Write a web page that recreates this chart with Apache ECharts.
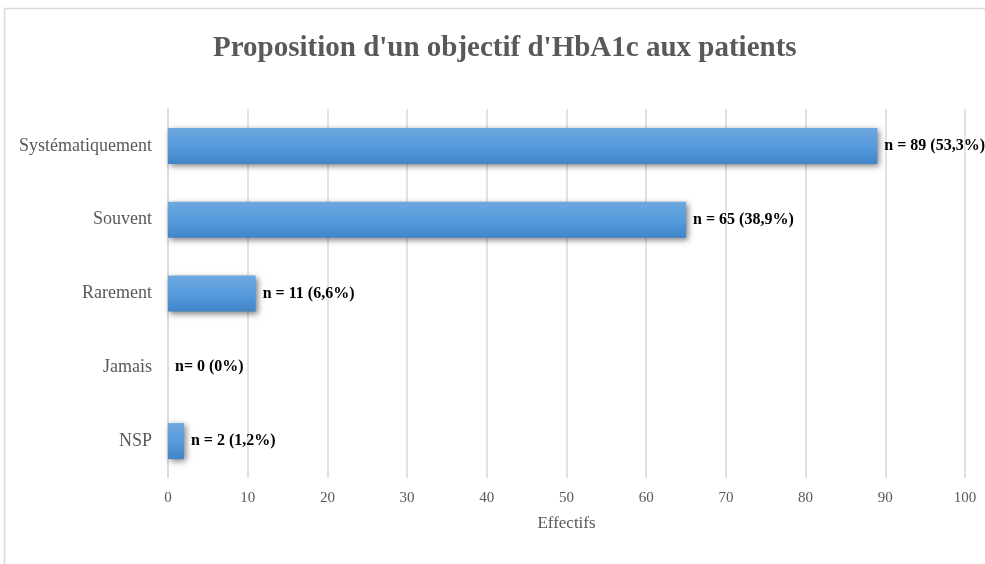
<!DOCTYPE html>
<html>
<head>
<meta charset="utf-8">
<script src="https://cdn.jsdelivr.net/npm/echarts@6/dist/echarts.min.js"></script>
<style>
    html, body { margin: 0; padding: 0; background: #fff; }
    #chart { width: 985px; height: 564px; }
</style>
</head>
<body>
<div id="chart"></div>
<script>
// données
const categories = ['Systématiquement', 'Souvent', 'Rarement', 'Jamais', 'NSP'];
const effectifs = [89, 65, 11, 0, 2];
const labels = ['n = 89 (53,3%)', 'n = 65 (38,9%)', 'n = 11 (6,6%)', 'n= 0 (0%)', 'n = 2 (1,2%)'];

const chart = echarts.init(document.getElementById('chart'));
const serif = '"Liberation Serif", "DejaVu Serif", serif';

const option = {
    animation: false,
    backgroundColor: '#fff',
    graphic: [
        {
            // cadre du graphique
            type: 'rect',
            shape: { x: 4.5, y: 8.5, width: 1000, height: 600 },
            style: { fill: 'none', stroke: '#d9d9d9', lineWidth: 1.5 },
            silent: true
        }
    ],
    title: {
        text: "Proposition d'un objectif d'HbA1c aux patients",
        left: 208,
        top: 29,
        textStyle: { fontFamily: serif, fontSize: 29, fontWeight: 'bold', color: '#595959' }
    },
    grid: { left: 168, right: 20, top: 109, bottom: 86, containLabel: false },
    xAxis: {
        type: 'value',
        min: 0,
        max: 100,
        interval: 10,
        name: 'Effectifs',
        nameLocation: 'middle',
        nameGap: 37,
        nameTextStyle: { fontFamily: serif, fontSize: 17, color: '#595959' },
        axisLine: { show: false },
        axisTick: { show: false },
        axisLabel: { fontFamily: serif, fontSize: 15, color: '#595959', margin: 13 },
        splitLine: { lineStyle: { color: '#d9d9d9', width: 1.5 } }
    },
    yAxis: {
        type: 'category',
        inverse: true,
        data: categories,
        axisLine: { lineStyle: { color: '#d9d9d9', width: 1.5 } },
        axisTick: { show: false },
        axisLabel: { fontFamily: serif, fontSize: 18, color: '#595959', margin: 16 }
    },
    series: [
        {
            type: 'bar',
            data: effectifs,
            barWidth: 36,
            itemStyle: {
                color: new echarts.graphic.LinearGradient(0, 0, 0, 1, [
                    { offset: 0, color: '#6ea8de' },
                    { offset: 0.5, color: '#569bdd' },
                    { offset: 1, color: '#3f85c8' }
                ]),
                shadowColor: 'rgba(0,0,0,0.5)',
                shadowBlur: 6,
                shadowOffsetX: 2,
                shadowOffsetY: 2
            },
            label: {
                show: true,
                position: 'right',
                distance: 7,
                formatter: p => labels[p.dataIndex],
                fontFamily: serif,
                fontSize: 16,
                fontWeight: 'bold',
                color: '#000',
                textShadowColor: '#fff',
                textShadowBlur: 3
            }
        }
    ]
};

chart.setOption(option);
</script>
</body>
</html>
